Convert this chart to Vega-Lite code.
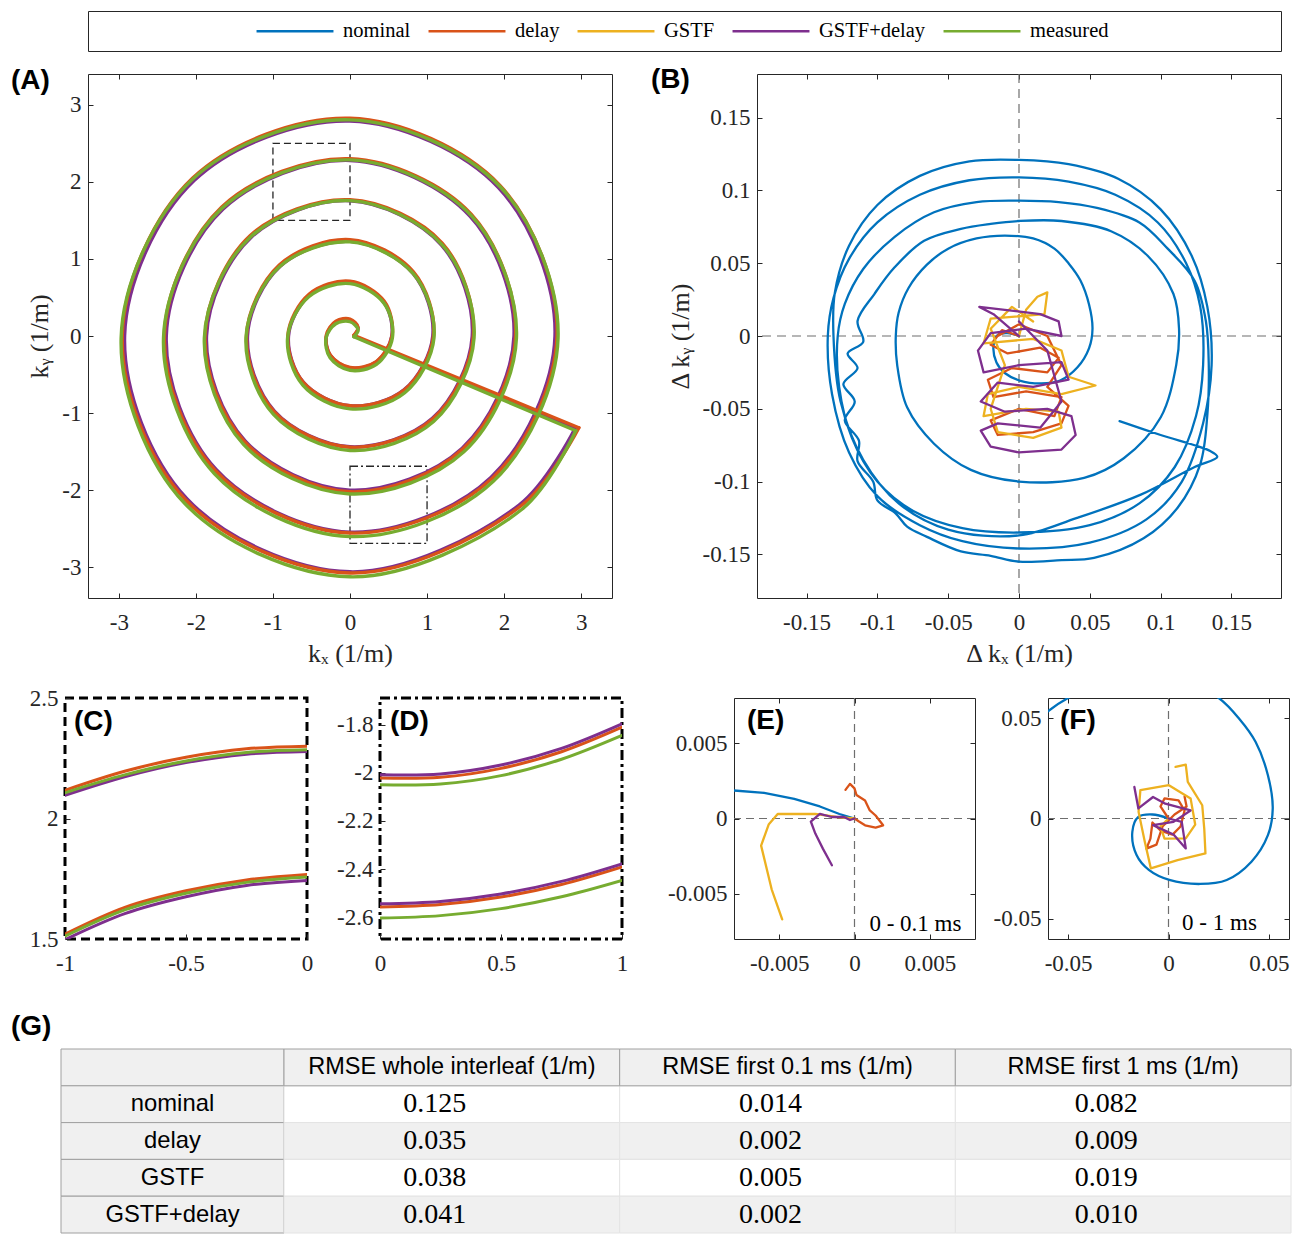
{
"$schema":"https://vega.github.io/schema/vega-lite/v6.json",
"background":"white",
"padding":{"left":10,"top":10,"right":0,"bottom":0},
"config":{
 "font":"Liberation Serif",
 "view":{"stroke":"#262626"},
 "axis":{"domain":false,"grid":false,"tickSize":-5,"tickColor":"#262626","tickWidth":1,"labelFont":"Liberation Serif","labelFontSize":23,"labelColor":"#262626","titleFont":"Liberation Serif","titleFontSize":26,"titleFontWeight":"normal","titleColor":"#262626","labelFlush":false,"labelOverlap":false},
 "axisX":{"labelPadding":18,"titlePadding":6},
 "axisY":{"labelPadding":12,"titlePadding":9},
 "title":{"font":"Liberation Sans","fontSize":28,"fontWeight":"bold","anchor":"start","frame":"group","color":"#000000","baseline":"alphabetic","offset":0},
 "line":{"strokeCap":"round","strokeJoin":"round"}
},
"datasets":{
 "leg":[{"s":"nominal"},{"s":"delay"},{"s":"GSTF"},{"s":"GSTF+delay"},{"s":"measured"}],
 "boxes":[{"b":"C","x1":-1,"x2":0,"y1":1.5,"y2":2.5},{"b":"D","x1":0,"x2":1,"y1":-2.69,"y2":-1.69}],
 "A":[
{"s":"GSTF+delay","p":"a","t":0,"x":0.05,"y":0},{"s":"GSTF+delay","p":"a","t":1,"x":0.104,"y":0.104},{"s":"GSTF+delay","p":"a","t":2,"x":0,"y":0.207},{"s":"GSTF+delay","p":"a","t":3,"x":-0.181,"y":0.181},{"s":"GSTF+delay","p":"a","t":4,"x":-0.305,"y":0},{"s":"GSTF+delay","p":"a","t":5,"x":-0.254,"y":-0.254},{"s":"GSTF+delay","p":"a","t":6,"x":0,"y":-0.414},{"s":"GSTF+delay","p":"a","t":7,"x":0.338,"y":-0.338},{"s":"GSTF+delay","p":"a","t":8,"x":0.542,"y":0},{"s":"GSTF+delay","p":"a","t":9,"x":0.438,"y":0.438},{"s":"GSTF+delay","p":"a","t":10,"x":0,"y":0.694},{"s":"GSTF+delay","p":"a","t":11,"x":-0.527,"y":0.527},{"s":"GSTF+delay","p":"a","t":12,"x":-0.798,"y":0},{"s":"GSTF+delay","p":"a","t":13,"x":-0.603,"y":-0.603},{"s":"GSTF+delay","p":"a","t":14,"x":0,"y":-0.906},{"s":"GSTF+delay","p":"a","t":15,"x":0.7,"y":-0.7},{"s":"GSTF+delay","p":"a","t":16,"x":1.074,"y":0},{"s":"GSTF+delay","p":"a","t":17,"x":0.815,"y":0.815},{"s":"GSTF+delay","p":"a","t":18,"x":0,"y":1.228},{"s":"GSTF+delay","p":"a","t":19,"x":-0.905,"y":0.905},{"s":"GSTF+delay","p":"a","t":20,"x":-1.33,"y":0},{"s":"GSTF+delay","p":"a","t":21,"x":-0.978,"y":-0.978},{"s":"GSTF+delay","p":"a","t":22,"x":0,"y":-1.438},{"s":"GSTF+delay","p":"a","t":23,"x":1.069,"y":-1.069},{"s":"GSTF+delay","p":"a","t":24,"x":1.586,"y":0},{"s":"GSTF+delay","p":"a","t":25,"x":1.184,"y":1.184},{"s":"GSTF+delay","p":"a","t":26,"x":0,"y":1.755},{"s":"GSTF+delay","p":"a","t":27,"x":-1.281,"y":1.281},{"s":"GSTF+delay","p":"a","t":28,"x":-1.862,"y":0},{"s":"GSTF+delay","p":"a","t":29,"x":-1.361,"y":-1.361},{"s":"GSTF+delay","p":"a","t":30,"x":0,"y":-2.0},{"s":"GSTF+delay","p":"a","t":31,"x":1.456,"y":-1.456},{"s":"GSTF+delay","p":"a","t":32,"x":2.128,"y":0},{"s":"GSTF+delay","p":"a","t":33,"x":1.556,"y":1.556},{"s":"GSTF+delay","p":"a","t":34,"x":0,"y":2.278},{"s":"GSTF+delay","p":"a","t":35,"x":-1.647,"y":1.647},{"s":"GSTF+delay","p":"a","t":36,"x":-2.384,"y":0},{"s":"GSTF+delay","p":"a","t":37,"x":-1.735,"y":-1.735},{"s":"GSTF+delay","p":"a","t":38,"x":0,"y":-2.545},{"s":"GSTF+delay","p":"a","t":39,"x":1.832,"y":-1.832},{"s":"GSTF+delay","p":"a","t":40,"x":2.66,"y":0},{"s":"GSTF+delay","p":"a","t":41,"x":1.926,"y":1.926},{"s":"GSTF+delay","p":"a","t":42,"x":0,"y":2.79},{"s":"GSTF+delay","p":"a","t":43,"x":-2.02,"y":2.02},{"s":"GSTF+delay","p":"a","t":44,"x":-2.925,"y":0},{"s":"GSTF+delay","p":"a","t":45,"x":-2.114,"y":-2.114},{"s":"GSTF+delay","p":"a","t":46,"x":0,"y":-3.06},{"s":"GSTF+delay","p":"a","t":47,"x":2.194,"y":-2.194},{"s":"GSTF+delay","p":"a","t":48,"x":2.92,"y":-1.2},{"s":"GSTF+delay","p":"b","t":49,"x":2.92,"y":-1.2},{"s":"GSTF+delay","p":"b","t":50,"x":0.05,"y":0},
{"s":"delay","p":"a","t":0,"x":0.05,"y":0.01},{"s":"delay","p":"a","t":1,"x":0.105,"y":0.115},{"s":"delay","p":"a","t":2,"x":0,"y":0.219},{"s":"delay","p":"a","t":3,"x":-0.183,"y":0.193},{"s":"delay","p":"a","t":4,"x":-0.308,"y":0.01},{"s":"delay","p":"a","t":5,"x":-0.257,"y":-0.247},{"s":"delay","p":"a","t":6,"x":0,"y":-0.408},{"s":"delay","p":"a","t":7,"x":0.341,"y":-0.331},{"s":"delay","p":"a","t":8,"x":0.547,"y":0.01},{"s":"delay","p":"a","t":9,"x":0.443,"y":0.453},{"s":"delay","p":"a","t":10,"x":0,"y":0.711},{"s":"delay","p":"a","t":11,"x":-0.532,"y":0.542},{"s":"delay","p":"a","t":12,"x":-0.806,"y":0.01},{"s":"delay","p":"a","t":13,"x":-0.609,"y":-0.599},{"s":"delay","p":"a","t":14,"x":0,"y":-0.905},{"s":"delay","p":"a","t":15,"x":0.707,"y":-0.697},{"s":"delay","p":"a","t":16,"x":1.085,"y":0.01},{"s":"delay","p":"a","t":17,"x":0.823,"y":0.833},{"s":"delay","p":"a","t":18,"x":0,"y":1.251},{"s":"delay","p":"a","t":19,"x":-0.914,"y":0.924},{"s":"delay","p":"a","t":20,"x":-1.343,"y":0.01},{"s":"delay","p":"a","t":21,"x":-0.988,"y":-0.978},{"s":"delay","p":"a","t":22,"x":0,"y":-1.443},{"s":"delay","p":"a","t":23,"x":1.08,"y":-1.07},{"s":"delay","p":"a","t":24,"x":1.602,"y":0.01},{"s":"delay","p":"a","t":25,"x":1.196,"y":1.206},{"s":"delay","p":"a","t":26,"x":0,"y":1.768},{"s":"delay","p":"a","t":27,"x":-1.294,"y":1.304},{"s":"delay","p":"a","t":28,"x":-1.881,"y":0.01},{"s":"delay","p":"a","t":29,"x":-1.375,"y":-1.365},{"s":"delay","p":"a","t":30,"x":0,"y":-2.022},{"s":"delay","p":"a","t":31,"x":1.471,"y":-1.461},{"s":"delay","p":"a","t":32,"x":2.149,"y":0.01},{"s":"delay","p":"a","t":33,"x":1.572,"y":1.582},{"s":"delay","p":"a","t":34,"x":0,"y":2.3},{"s":"delay","p":"a","t":35,"x":-1.664,"y":1.674},{"s":"delay","p":"a","t":36,"x":-2.408,"y":0.01},{"s":"delay","p":"a","t":37,"x":-1.752,"y":-1.742},{"s":"delay","p":"a","t":38,"x":0,"y":-2.557},{"s":"delay","p":"a","t":39,"x":1.851,"y":-1.841},{"s":"delay","p":"a","t":40,"x":2.687,"y":0.01},{"s":"delay","p":"a","t":41,"x":1.945,"y":1.955},{"s":"delay","p":"a","t":42,"x":0,"y":2.826},{"s":"delay","p":"a","t":43,"x":-2.041,"y":2.051},{"s":"delay","p":"a","t":44,"x":-2.955,"y":0.01},{"s":"delay","p":"a","t":45,"x":-2.135,"y":-2.125},{"s":"delay","p":"a","t":46,"x":0,"y":-3.075},{"s":"delay","p":"a","t":47,"x":2.216,"y":-2.206},{"s":"delay","p":"a","t":48,"x":2.97,"y":-1.19},{"s":"delay","p":"b","t":49,"x":2.97,"y":-1.19},{"s":"delay","p":"b","t":50,"x":0.05,"y":0.01},
{"s":"measured","p":"a","t":0,"x":0.05,"y":-0.01},{"s":"measured","p":"a","t":1,"x":0.106,"y":0.081},{"s":"measured","p":"a","t":2,"x":0,"y":0.185},{"s":"measured","p":"a","t":3,"x":-0.184,"y":0.159},{"s":"measured","p":"a","t":4,"x":-0.31,"y":-0.025},{"s":"measured","p":"a","t":5,"x":-0.258,"y":-0.283},{"s":"measured","p":"a","t":6,"x":0,"y":-0.445},{"s":"measured","p":"a","t":7,"x":0.343,"y":-0.368},{"s":"measured","p":"a","t":8,"x":0.55,"y":-0.025},{"s":"measured","p":"a","t":9,"x":0.445,"y":0.42},{"s":"measured","p":"a","t":10,"x":0,"y":0.68},{"s":"measured","p":"a","t":11,"x":-0.535,"y":0.51},{"s":"measured","p":"a","t":12,"x":-0.81,"y":-0.025},{"s":"measured","p":"a","t":13,"x":-0.612,"y":-0.637},{"s":"measured","p":"a","t":14,"x":0,"y":-0.945},{"s":"measured","p":"a","t":15,"x":0.711,"y":-0.736},{"s":"measured","p":"a","t":16,"x":1.09,"y":-0.025},{"s":"measured","p":"a","t":17,"x":0.827,"y":0.802},{"s":"measured","p":"a","t":18,"x":0,"y":1.222},{"s":"measured","p":"a","t":19,"x":-0.919,"y":0.894},{"s":"measured","p":"a","t":20,"x":-1.35,"y":-0.025},{"s":"measured","p":"a","t":21,"x":-0.993,"y":-1.018},{"s":"measured","p":"a","t":22,"x":0,"y":-1.485},{"s":"measured","p":"a","t":23,"x":1.085,"y":-1.11},{"s":"measured","p":"a","t":24,"x":1.61,"y":-0.025},{"s":"measured","p":"a","t":25,"x":1.202,"y":1.177},{"s":"measured","p":"a","t":26,"x":0,"y":1.757},{"s":"measured","p":"a","t":27,"x":-1.301,"y":1.276},{"s":"measured","p":"a","t":28,"x":-1.89,"y":-0.025},{"s":"measured","p":"a","t":29,"x":-1.382,"y":-1.407},{"s":"measured","p":"a","t":30,"x":0,"y":-2.05},{"s":"measured","p":"a","t":31,"x":1.478,"y":-1.503},{"s":"measured","p":"a","t":32,"x":2.16,"y":-0.025},{"s":"measured","p":"a","t":33,"x":1.58,"y":1.555},{"s":"measured","p":"a","t":34,"x":0,"y":2.285},{"s":"measured","p":"a","t":35,"x":-1.672,"y":1.647},{"s":"measured","p":"a","t":36,"x":-2.42,"y":-0.025},{"s":"measured","p":"a","t":37,"x":-1.761,"y":-1.786},{"s":"measured","p":"a","t":38,"x":0,"y":-2.603},{"s":"measured","p":"a","t":39,"x":1.86,"y":-1.885},{"s":"measured","p":"a","t":40,"x":2.7,"y":-0.025},{"s":"measured","p":"a","t":41,"x":1.955,"y":1.93},{"s":"measured","p":"a","t":42,"x":0,"y":2.805},{"s":"measured","p":"a","t":43,"x":-2.051,"y":2.026},{"s":"measured","p":"a","t":44,"x":-2.97,"y":-0.025},{"s":"measured","p":"a","t":45,"x":-2.146,"y":-2.171},{"s":"measured","p":"a","t":46,"x":0,"y":-3.125},{"s":"measured","p":"a","t":47,"x":2.227,"y":-2.252},{"s":"measured","p":"a","t":48,"x":2.93,"y":-1.23},{"s":"measured","p":"b","t":49,"x":2.93,"y":-1.23},{"s":"measured","p":"b","t":50,"x":0.05,"y":-0.01}
 ],
 "Bn":[
{"s":"nominal","t":0,"x":0,"y":0},{"s":"nominal","t":1,"x":-0.008,"y":0.002},{"s":"nominal","t":2,"x":-0.015,"y":0.0008},{"s":"nominal","t":3,"x":-0.018,"y":-0.0066},{"s":"nominal","t":4,"x":-0.0159,"y":-0.0182},{"s":"nominal","t":5,"x":-0.0098,"y":-0.0256},{"s":"nominal","t":6,"x":0.0004,"y":-0.0306},{"s":"nominal","t":7,"x":0.0157,"y":-0.0326},{"s":"nominal","t":8,"x":0.029,"y":-0.0306},{"s":"nominal","t":9,"x":0.0413,"y":-0.0215},{"s":"nominal","t":10,"x":0.0495,"y":-0.0083},{"s":"nominal","t":11,"x":0.0519,"y":0.005},{"s":"nominal","t":12,"x":0.0495,"y":0.0215},{"s":"nominal","t":13,"x":0.0434,"y":0.0381},{"s":"nominal","t":14,"x":0.0352,"y":0.0497},{"s":"nominal","t":15,"x":0.025,"y":0.06},{"s":"nominal","t":16,"x":0.01,"y":0.067},{"s":"nominal","t":17,"x":-0.01,"y":0.069},{"s":"nominal","t":18,"x":-0.03,"y":0.067},{"s":"nominal","t":19,"x":-0.05,"y":0.06},{"s":"nominal","t":20,"x":-0.065,"y":0.049},{"s":"nominal","t":21,"x":-0.078,"y":0.033},{"s":"nominal","t":22,"x":-0.085,"y":0.016},{"s":"nominal","t":23,"x":-0.087,"y":0},
{"s":"nominal","t":24,"x":-0.086,"y":-0.02},{"s":"nominal","t":25,"x":-0.079,"y":-0.049},{"s":"nominal","t":26,"x":-0.06,"y":-0.074},{"s":"nominal","t":27,"x":-0.034,"y":-0.092},{"s":"nominal","t":28,"x":0,"y":-0.1},{"s":"nominal","t":29,"x":0.046,"y":-0.0975},{"s":"nominal","t":30,"x":0.074,"y":-0.084},{"s":"nominal","t":31,"x":0.1,"y":-0.056},{"s":"nominal","t":32,"x":0.111,"y":-0.02},{"s":"nominal","t":33,"x":0.113,"y":0.005},{"s":"nominal","t":34,"x":0.109,"y":0.029},{"s":"nominal","t":35,"x":0.091,"y":0.055},{"s":"nominal","t":36,"x":0.065,"y":0.072},{"s":"nominal","t":37,"x":0.03,"y":0.079},{"s":"nominal","t":38,"x":0,"y":0.079},{"s":"nominal","t":39,"x":-0.02,"y":0.077},{"s":"nominal","t":40,"x":-0.041,"y":0.0736},{"s":"nominal","t":41,"x":-0.067,"y":0.0654},{"s":"nominal","t":42,"x":-0.088,"y":0.047},{"s":"nominal","t":43,"x":-0.102,"y":0.029},{"s":"nominal","t":44,"x":-0.114,"y":0.0103},{"s":"nominal","t":45,"x":-0.11,"y":-0.004},{"s":"nominal","t":46,"x":-0.121,"y":-0.012},{"s":"nominal","t":47,"x":-0.114,"y":-0.022},{"s":"nominal","t":48,"x":-0.124,"y":-0.033},{"s":"nominal","t":49,"x":-0.116,"y":-0.045},{"s":"nominal","t":50,"x":-0.123,"y":-0.058},{"s":"nominal","t":51,"x":-0.113,"y":-0.072},{"s":"nominal","t":52,"x":-0.114,"y":-0.086},{"s":"nominal","t":53,"x":-0.103,"y":-0.1},{"s":"nominal","t":54,"x":-0.1,"y":-0.113},{"s":"nominal","t":55,"x":-0.087,"y":-0.122},{"s":"nominal","t":56,"x":-0.079,"y":-0.131},{"s":"nominal","t":57,"x":-0.065,"y":-0.138},{"s":"nominal","t":58,"x":-0.041,"y":-0.148},{"s":"nominal","t":59,"x":-0.02,"y":-0.151},{"s":"nominal","t":60,"x":0,"y":-0.155},{"s":"nominal","t":61,"x":0.03,"y":-0.154},{"s":"nominal","t":62,"x":0.053,"y":-0.1525},{"s":"nominal","t":63,"x":0.088,"y":-0.139},{"s":"nominal","t":64,"x":0.112,"y":-0.118},{"s":"nominal","t":65,"x":0.128,"y":-0.088},{"s":"nominal","t":66,"x":0.133,"y":-0.054},{"s":"nominal","t":67,"x":0.134,"y":-0.02},{"s":"nominal","t":68,"x":0.132,"y":0.01},{"s":"nominal","t":69,"x":0.124,"y":0.038},{"s":"nominal","t":70,"x":0.105,"y":0.06},{"s":"nominal","t":71,"x":0.085,"y":0.078},{"s":"nominal","t":72,"x":0.055,"y":0.088},{"s":"nominal","t":73,"x":0.028,"y":0.092},{"s":"nominal","t":74,"x":0,"y":0.093},{"s":"nominal","t":75,"x":-0.03,"y":0.092},{"s":"nominal","t":76,"x":-0.06,"y":0.085},{"s":"nominal","t":77,"x":-0.088,"y":0.068},{"s":"nominal","t":78,"x":-0.11,"y":0.046},{"s":"nominal","t":79,"x":-0.123,"y":0.022},{"s":"nominal","t":80,"x":-0.128,"y":0},{"s":"nominal","t":81,"x":-0.127,"y":-0.035},{"s":"nominal","t":82,"x":-0.118,"y":-0.07},{"s":"nominal","t":83,"x":-0.1,"y":-0.1},{"s":"nominal","t":84,"x":-0.075,"y":-0.12},{"s":"nominal","t":85,"x":-0.04,"y":-0.132},{"s":"nominal","t":86,"x":0,"y":-0.135},{"s":"nominal","t":87,"x":0.05,"y":-0.13},{"s":"nominal","t":88,"x":0.085,"y":-0.115},{"s":"nominal","t":89,"x":0.11,"y":-0.09},{"s":"nominal","t":90,"x":0.125,"y":-0.055},{"s":"nominal","t":91,"x":0.13,"y":-0.02},{"s":"nominal","t":92,"x":0.128,"y":0.02},{"s":"nominal","t":93,"x":0.118,"y":0.05},{"s":"nominal","t":94,"x":0.098,"y":0.078},{"s":"nominal","t":95,"x":0.068,"y":0.097},{"s":"nominal","t":96,"x":0.035,"y":0.106},{"s":"nominal","t":97,"x":0,"y":0.109},{"s":"nominal","t":98,"x":-0.035,"y":0.107},{"s":"nominal","t":99,"x":-0.07,"y":0.097},{"s":"nominal","t":100,"x":-0.1,"y":0.078},{"s":"nominal","t":101,"x":-0.12,"y":0.053},{"s":"nominal","t":102,"x":-0.131,"y":0.026},{"s":"nominal","t":103,"x":-0.135,"y":0},{"s":"nominal","t":104,"x":-0.132,"y":-0.04},{"s":"nominal","t":105,"x":-0.12,"y":-0.08},{"s":"nominal","t":106,"x":-0.1,"y":-0.11},{"s":"nominal","t":107,"x":-0.07,"y":-0.13},{"s":"nominal","t":108,"x":-0.04,"y":-0.141},{"s":"nominal","t":109,"x":0,"y":-0.146},{"s":"nominal","t":110,"x":0.05,"y":-0.142},{"s":"nominal","t":111,"x":0.09,"y":-0.126},{"s":"nominal","t":112,"x":0.115,"y":-0.1},{"s":"nominal","t":113,"x":0.13,"y":-0.06},{"s":"nominal","t":114,"x":0.136,"y":-0.02},{"s":"nominal","t":115,"x":0.133,"y":0.02},{"s":"nominal","t":116,"x":0.122,"y":0.055},{"s":"nominal","t":117,"x":0.1,"y":0.087},{"s":"nominal","t":118,"x":0.07,"y":0.108},{"s":"nominal","t":119,"x":0.035,"y":0.118},{"s":"nominal","t":120,"x":0,"y":0.121},{"s":"nominal","t":121,"x":-0.035,"y":0.12},{"s":"nominal","t":122,"x":-0.07,"y":0.11},{"s":"nominal","t":123,"x":-0.1,"y":0.09},{"s":"nominal","t":124,"x":-0.12,"y":0.062},{"s":"nominal","t":125,"x":-0.13,"y":0.03},{"s":"nominal","t":126,"x":-0.131,"y":0},{"s":"nominal","t":127,"x":-0.126,"y":-0.045},{"s":"nominal","t":128,"x":-0.11,"y":-0.085},{"s":"nominal","t":129,"x":-0.085,"y":-0.115},{"s":"nominal","t":130,"x":-0.05,"y":-0.133},{"s":"nominal","t":131,"x":0,"y":-0.137},{"s":"nominal","t":132,"x":0.041,"y":-0.125},{"s":"nominal","t":133,"x":0.086,"y":-0.109},{"s":"nominal","t":134,"x":0.124,"y":-0.09},{"s":"nominal","t":135,"x":0.14,"y":-0.083},{"s":"nominal","t":136,"x":0.135,"y":-0.079},{"s":"nominal","t":137,"x":0.1,"y":-0.068},{"s":"nominal","t":138,"x":0.071,"y":-0.0585}
 ],
 "Bs":[
{"s":"delay","t":0,"x":0,"y":0},{"s":"delay","t":1,"x":-0.012,"y":0.004},{"s":"delay","t":2,"x":-0.02,"y":-0.006},{"s":"delay","t":3,"x":-0.008,"y":-0.012},{"s":"delay","t":4,"x":0.015,"y":-0.008},{"s":"delay","t":5,"x":0.028,"y":-0.015},{"s":"delay","t":6,"x":0.02,"y":-0.025},{"s":"delay","t":7,"x":-0.005,"y":-0.022},{"s":"delay","t":8,"x":-0.022,"y":-0.03},{"s":"delay","t":9,"x":-0.018,"y":-0.042},{"s":"delay","t":10,"x":0.005,"y":-0.038},{"s":"delay","t":11,"x":0.03,"y":-0.042},{"s":"delay","t":12,"x":0.025,"y":-0.055},{"s":"delay","t":13,"x":0,"y":-0.05},{"s":"delay","t":14,"x":-0.02,"y":-0.058},{"s":"delay","t":15,"x":-0.015,"y":-0.068},{"s":"delay","t":16,"x":0.01,"y":-0.066},{"s":"delay","t":17,"x":0.03,"y":-0.06},{"s":"delay","t":18,"x":0.035,"y":-0.048},{"s":"delay","t":19,"x":0.02,"y":-0.035},{"s":"delay","t":20,"x":0.03,"y":-0.02},{"s":"delay","t":21,"x":0.02,"y":0},{"s":"delay","t":22,"x":0,"y":0.008},{"s":"delay","t":23,"x":-0.015,"y":0},
{"s":"GSTF","t":0,"x":0,"y":0},{"s":"GSTF","t":1,"x":0.005,"y":0.018},{"s":"GSTF","t":2,"x":0.013,"y":0.027},{"s":"GSTF","t":3,"x":0.02,"y":0.03},{"s":"GSTF","t":4,"x":0.018,"y":0.015},{"s":"GSTF","t":5,"x":-0.02,"y":0.012},{"s":"GSTF","t":6,"x":-0.025,"y":-0.005},{"s":"GSTF","t":7,"x":0.01,"y":-0.002},{"s":"GSTF","t":8,"x":0.03,"y":-0.01},{"s":"GSTF","t":9,"x":0.035,"y":-0.028},{"s":"GSTF","t":10,"x":0.054,"y":-0.034},{"s":"GSTF","t":11,"x":0.03,"y":-0.04},{"s":"GSTF","t":12,"x":0,"y":-0.035},{"s":"GSTF","t":13,"x":-0.022,"y":-0.04},{"s":"GSTF","t":14,"x":-0.025,"y":-0.055},{"s":"GSTF","t":15,"x":0.005,"y":-0.05},{"s":"GSTF","t":16,"x":0.028,"y":-0.052},{"s":"GSTF","t":17,"x":0.03,"y":-0.063},{"s":"GSTF","t":18,"x":0.01,"y":-0.07},{"s":"GSTF","t":19,"x":-0.015,"y":-0.066},{"s":"GSTF","t":20,"x":-0.02,"y":-0.05},{"s":"GSTF","t":21,"x":-0.01,"y":-0.02},{"s":"GSTF","t":22,"x":-0.02,"y":0.005},{"s":"GSTF","t":23,"x":-0.005,"y":0.02},{"s":"GSTF","t":24,"x":0.01,"y":0.01},
{"s":"GSTF+delay","t":0,"x":0,"y":0},{"s":"GSTF+delay","t":1,"x":-0.018,"y":0.015},{"s":"GSTF+delay","t":2,"x":-0.028,"y":0.02},{"s":"GSTF+delay","t":3,"x":-0.01,"y":0.018},{"s":"GSTF+delay","t":4,"x":0.015,"y":0.015},{"s":"GSTF+delay","t":5,"x":0.028,"y":0.01},{"s":"GSTF+delay","t":6,"x":0.03,"y":0},{"s":"GSTF+delay","t":7,"x":0.005,"y":0.005},{"s":"GSTF+delay","t":8,"x":-0.02,"y":0.002},{"s":"GSTF+delay","t":9,"x":-0.029,"y":-0.01},{"s":"GSTF+delay","t":10,"x":-0.025,"y":-0.025},{"s":"GSTF+delay","t":11,"x":0,"y":-0.02},{"s":"GSTF+delay","t":12,"x":0.03,"y":-0.018},{"s":"GSTF+delay","t":13,"x":0.035,"y":-0.03},{"s":"GSTF+delay","t":14,"x":0.01,"y":-0.035},{"s":"GSTF+delay","t":15,"x":-0.015,"y":-0.032},{"s":"GSTF+delay","t":16,"x":-0.027,"y":-0.045},{"s":"GSTF+delay","t":17,"x":-0.01,"y":-0.052},{"s":"GSTF+delay","t":18,"x":0.02,"y":-0.05},{"s":"GSTF+delay","t":19,"x":0.037,"y":-0.055},{"s":"GSTF+delay","t":20,"x":0.04,"y":-0.068},{"s":"GSTF+delay","t":21,"x":0.03,"y":-0.078},{"s":"GSTF+delay","t":22,"x":0,"y":-0.08},{"s":"GSTF+delay","t":23,"x":-0.02,"y":-0.076},{"s":"GSTF+delay","t":24,"x":-0.027,"y":-0.065},{"s":"GSTF+delay","t":25,"x":-0.015,"y":-0.06},{"s":"GSTF+delay","t":26,"x":0.015,"y":-0.063},{"s":"GSTF+delay","t":27,"x":0.03,"y":-0.045},{"s":"GSTF+delay","t":28,"x":0.02,"y":-0.01},{"s":"GSTF+delay","t":29,"x":0,"y":0.01}
 ],
 "C":[
{"s":"GSTF+delay","arc":"u","x":-1,"y":2.096},{"s":"GSTF+delay","arc":"u","x":-0.75,"y":2.174},{"s":"GSTF+delay","arc":"u","x":-0.5,"y":2.232},{"s":"GSTF+delay","arc":"u","x":-0.25,"y":2.267},{"s":"GSTF+delay","arc":"u","x":0,"y":2.278},
{"s":"GSTF+delay","arc":"l","x":-1,"y":1.497},{"s":"GSTF+delay","arc":"l","x":-0.75,"y":1.606},{"s":"GSTF+delay","arc":"l","x":-0.5,"y":1.675},{"s":"GSTF+delay","arc":"l","x":-0.25,"y":1.722},{"s":"GSTF+delay","arc":"l","x":0,"y":1.743},
{"s":"delay","arc":"u","x":-1,"y":2.117},{"s":"delay","arc":"u","x":-0.75,"y":2.197},{"s":"delay","arc":"u","x":-0.5,"y":2.254},{"s":"delay","arc":"u","x":-0.25,"y":2.289},{"s":"delay","arc":"u","x":0,"y":2.3},
{"s":"delay","arc":"l","x":-1,"y":1.52},{"s":"delay","arc":"l","x":-0.75,"y":1.632},{"s":"delay","arc":"l","x":-0.5,"y":1.7},{"s":"delay","arc":"l","x":-0.25,"y":1.745},{"s":"delay","arc":"l","x":0,"y":1.768},
{"s":"measured","arc":"u","x":-1,"y":2.107},{"s":"measured","arc":"u","x":-0.75,"y":2.182},{"s":"measured","arc":"u","x":-0.5,"y":2.239},{"s":"measured","arc":"u","x":-0.25,"y":2.274},{"s":"measured","arc":"u","x":0,"y":2.285},
{"s":"measured","arc":"l","x":-1,"y":1.512},{"s":"measured","arc":"l","x":-0.75,"y":1.622},{"s":"measured","arc":"l","x":-0.5,"y":1.69},{"s":"measured","arc":"l","x":-0.25,"y":1.735},{"s":"measured","arc":"l","x":0,"y":1.757}
 ],
 "D":[
{"s":"delay","arc":"u","x":0,"y":-2.022},{"s":"delay","arc":"u","x":0.25,"y":-2.019},{"s":"delay","arc":"u","x":0.5,"y":-1.982},{"s":"delay","arc":"u","x":0.75,"y":-1.913},{"s":"delay","arc":"u","x":1,"y":-1.811},
{"s":"delay","arc":"l","x":0,"y":-2.557},{"s":"delay","arc":"l","x":0.25,"y":-2.547},{"s":"delay","arc":"l","x":0.5,"y":-2.516},{"s":"delay","arc":"l","x":0.75,"y":-2.464},{"s":"delay","arc":"l","x":1,"y":-2.391},
{"s":"measured","arc":"u","x":0,"y":-2.05},{"s":"measured","arc":"u","x":0.25,"y":-2.047},{"s":"measured","arc":"u","x":0.5,"y":-2.012},{"s":"measured","arc":"u","x":0.75,"y":-1.944},{"s":"measured","arc":"u","x":1,"y":-1.845},
{"s":"measured","arc":"l","x":0,"y":-2.603},{"s":"measured","arc":"l","x":0.25,"y":-2.593},{"s":"measured","arc":"l","x":0.5,"y":-2.564},{"s":"measured","arc":"l","x":0.75,"y":-2.515},{"s":"measured","arc":"l","x":1,"y":-2.447},
{"s":"GSTF+delay","arc":"u","x":0,"y":-2.008},{"s":"GSTF+delay","arc":"u","x":0.25,"y":-2.005},{"s":"GSTF+delay","arc":"u","x":0.5,"y":-1.968},{"s":"GSTF+delay","arc":"u","x":0.75,"y":-1.899},{"s":"GSTF+delay","arc":"u","x":1,"y":-1.797},
{"s":"GSTF+delay","arc":"l","x":0,"y":-2.544},{"s":"GSTF+delay","arc":"l","x":0.25,"y":-2.534},{"s":"GSTF+delay","arc":"l","x":0.5,"y":-2.503},{"s":"GSTF+delay","arc":"l","x":0.75,"y":-2.451},{"s":"GSTF+delay","arc":"l","x":1,"y":-2.378}
 ],
 "E":[
{"s":"nominal","t":0,"x":0,"y":0},{"s":"nominal","t":1,"x":-0.001,"y":0.0003},{"s":"nominal","t":2,"x":-0.0023,"y":0.0008},{"s":"nominal","t":3,"x":-0.004,"y":0.0013},{"s":"nominal","t":4,"x":-0.006,"y":0.0017},{"s":"nominal","t":5,"x":-0.0085,"y":0.0019},
{"s":"delay","t":0,"x":0,"y":0},{"s":"delay","t":1,"x":0.0003,"y":-0.0002},{"s":"delay","t":2,"x":0.0007,"y":-0.00045},{"s":"delay","t":3,"x":0.0014,"y":-0.0006},{"s":"delay","t":4,"x":0.0019,"y":-0.00045},{"s":"delay","t":5,"x":0.0014,"y":0.0002},{"s":"delay","t":6,"x":0.001,"y":0.00056},{"s":"delay","t":7,"x":0.0007,"y":0.0012},{"s":"delay","t":8,"x":0.00013,"y":0.00156},{"s":"delay","t":9,"x":0,"y":0.002},{"s":"delay","t":10,"x":-0.0003,"y":0.0023},{"s":"delay","t":11,"x":-0.0006,"y":0.0019},
{"s":"GSTF","t":0,"x":0,"y":0},{"s":"GSTF","t":1,"x":-0.0012,"y":0.0001},{"s":"GSTF","t":2,"x":-0.0026,"y":0.0003},{"s":"GSTF","t":3,"x":-0.0051,"y":0.0003},{"s":"GSTF","t":4,"x":-0.0057,"y":-0.0004},{"s":"GSTF","t":5,"x":-0.0062,"y":-0.0018},{"s":"GSTF","t":6,"x":-0.0055,"y":-0.0047},{"s":"GSTF","t":7,"x":-0.0048,"y":-0.0067},
{"s":"GSTF+delay","t":0,"x":0,"y":0},{"s":"GSTF+delay","t":1,"x":-0.0003,"y":-0.0001},{"s":"GSTF+delay","t":2,"x":-0.0007,"y":0.0001},{"s":"GSTF+delay","t":3,"x":-0.0015,"y":0.0001},{"s":"GSTF+delay","t":4,"x":-0.0023,"y":0.0003},{"s":"GSTF+delay","t":5,"x":-0.0029,"y":-0.0002},{"s":"GSTF+delay","t":6,"x":-0.0026,"y":-0.001},{"s":"GSTF+delay","t":7,"x":-0.0021,"y":-0.002},{"s":"GSTF+delay","t":8,"x":-0.0015,"y":-0.0031}
 ],
 "Fn":[
{"s":"nominal","t":0,"x":0,"y":0},{"s":"nominal","t":1,"x":-0.008,"y":0.002},{"s":"nominal","t":2,"x":-0.015,"y":0.0008},{"s":"nominal","t":3,"x":-0.018,"y":-0.0066},{"s":"nominal","t":4,"x":-0.0159,"y":-0.0182},{"s":"nominal","t":5,"x":-0.0098,"y":-0.0256},{"s":"nominal","t":6,"x":0.0004,"y":-0.0306},{"s":"nominal","t":7,"x":0.0157,"y":-0.0326},{"s":"nominal","t":8,"x":0.029,"y":-0.0306},{"s":"nominal","t":9,"x":0.0413,"y":-0.0215},{"s":"nominal","t":10,"x":0.0495,"y":-0.0083},{"s":"nominal","t":11,"x":0.0519,"y":0.005},{"s":"nominal","t":12,"x":0.0495,"y":0.0215},{"s":"nominal","t":13,"x":0.0434,"y":0.0381},{"s":"nominal","t":14,"x":0.0352,"y":0.0497},{"s":"nominal","t":15,"x":0.025,"y":0.06},{"s":"nominal","t":16,"x":0.01,"y":0.067},{"s":"nominal","t":17,"x":-0.01,"y":0.069},{"s":"nominal","t":18,"x":-0.03,"y":0.067},{"s":"nominal","t":19,"x":-0.05,"y":0.06},{"s":"nominal","t":20,"x":-0.065,"y":0.049},{"s":"nominal","t":21,"x":-0.078,"y":0.033}
 ],
 "Fs":[
{"s":"delay","t":0,"x":0,"y":0},{"s":"delay","t":1,"x":-0.004,"y":0.006},{"s":"delay","t":2,"x":-0.002,"y":0.01},{"s":"delay","t":3,"x":0.005,"y":0.009},{"s":"delay","t":4,"x":0.008,"y":0.004},{"s":"delay","t":5,"x":0.006,"y":-0.004},{"s":"delay","t":6,"x":0.002,"y":-0.008},{"s":"delay","t":7,"x":-0.004,"y":-0.006},{"s":"delay","t":8,"x":-0.008,"y":-0.002},{"s":"delay","t":9,"x":-0.009,"y":-0.01},{"s":"delay","t":10,"x":-0.011,"y":-0.015},{"s":"delay","t":11,"x":-0.006,"y":-0.013},{"s":"delay","t":12,"x":-0.003,"y":-0.004},{"s":"delay","t":13,"x":0.003,"y":0.002},{"s":"delay","t":14,"x":0.009,"y":0.006},{"s":"delay","t":15,"x":0.008,"y":0.011},
{"s":"GSTF","t":0,"x":0,"y":0},{"s":"GSTF","t":1,"x":-0.004,"y":-0.004},{"s":"GSTF","t":2,"x":-0.002,"y":-0.01},{"s":"GSTF","t":3,"x":0.0086,"y":-0.0099},{"s":"GSTF","t":4,"x":0.0133,"y":-0.003},{"s":"GSTF","t":5,"x":0.011,"y":0.01},{"s":"GSTF","t":6,"x":0.0002,"y":0.0166},{"s":"GSTF","t":7,"x":-0.014,"y":0.0141},{"s":"GSTF","t":8,"x":-0.0149,"y":0.0033},{"s":"GSTF","t":9,"x":-0.0118,"y":-0.0116},{"s":"GSTF","t":10,"x":-0.0088,"y":-0.0248},{"s":"GSTF","t":11,"x":0.0045,"y":-0.0207},{"s":"GSTF","t":12,"x":0.0184,"y":-0.0174},{"s":"GSTF","t":13,"x":0.0178,"y":-0.005},{"s":"GSTF","t":14,"x":0.0168,"y":0.0066},{"s":"GSTF","t":15,"x":0.0096,"y":0.0182},{"s":"GSTF","t":16,"x":0.0086,"y":0.0268},{"s":"GSTF","t":17,"x":0.0035,"y":0.0257},
{"s":"GSTF+delay","t":0,"x":0,"y":0},{"s":"GSTF+delay","t":1,"x":0.0066,"y":-0.0017},{"s":"GSTF+delay","t":2,"x":0.0086,"y":-0.0149},{"s":"GSTF+delay","t":3,"x":0.0025,"y":-0.008},{"s":"GSTF+delay","t":4,"x":-0.0077,"y":-0.0033},{"s":"GSTF+delay","t":5,"x":0.0025,"y":-0.0017},{"s":"GSTF+delay","t":6,"x":0.011,"y":0.004},{"s":"GSTF+delay","t":7,"x":-0.0016,"y":0.0074},{"s":"GSTF+delay","t":8,"x":-0.0077,"y":0.0107},{"s":"GSTF+delay","t":9,"x":-0.015,"y":0.005},{"s":"GSTF+delay","t":10,"x":-0.017,"y":0.0157}
 ],
 "methods":[{"r":"nominal"},{"r":"delay"},{"r":"GSTF"},{"r":"GSTF+delay"}],
 "metrics":[{"m":"RMSE whole interleaf (1/m)"},{"m":"RMSE first 0.1 ms (1/m)"},{"m":"RMSE first 1 ms (1/m)"}],
 "cells":[
{"r":"nominal","m":"RMSE whole interleaf (1/m)","v":0.125},{"r":"nominal","m":"RMSE first 0.1 ms (1/m)","v":0.014},{"r":"nominal","m":"RMSE first 1 ms (1/m)","v":0.082},
{"r":"delay","m":"RMSE whole interleaf (1/m)","v":0.035},{"r":"delay","m":"RMSE first 0.1 ms (1/m)","v":0.002},{"r":"delay","m":"RMSE first 1 ms (1/m)","v":0.009},
{"r":"GSTF","m":"RMSE whole interleaf (1/m)","v":0.038},{"r":"GSTF","m":"RMSE first 0.1 ms (1/m)","v":0.005},{"r":"GSTF","m":"RMSE first 1 ms (1/m)","v":0.019},
{"r":"GSTF+delay","m":"RMSE whole interleaf (1/m)","v":0.041},{"r":"GSTF+delay","m":"RMSE first 0.1 ms (1/m)","v":0.002},{"r":"GSTF+delay","m":"RMSE first 1 ms (1/m)","v":0.010}
 ]
},
"spacing":0,
"bounds":"flush",
"resolve":{"scale":{"color":"independent"}},
"vconcat":[
 {"hconcat":[
   {"width":27,"height":1,"view":{"stroke":null},"data":{"values":[{}]},"mark":{"type":"point","opacity":0,"size":0,"strokeWidth":0}},
   {"vconcat":[
     {"width":1193,"height":40,"view":{"stroke":"#262626"},"data":{"name":"leg"},"mark":{"type":"line","strokeWidth":2.5,"strokeCap":"butt"},
      "encoding":{"color":{"field":"s","type":"nominal","scale":{"domain":["nominal","delay","GSTF","GSTF+delay","measured"],"range":["#0072BD","#D95319","#EDB120","#7E2F8E","#77AC30"]},
        "legend":{"orient":"none","legendX":167,"legendY":9,"direction":"horizontal","columns":5,"title":null,"symbolType":"M-4,0H4","symbolSize":370,"symbolStrokeWidth":2.5,"symbolOffset":29,"labelFont":"Liberation Serif","labelFontSize":20.5,"labelColor":"#000000","labelOffset":37,"columnPadding":16,"padding":0}}}},
     {"width":1,"height":23,"view":{"stroke":null},"data":{"values":[{}]},"mark":{"type":"point","opacity":0,"size":0,"strokeWidth":0}},
     {"hconcat":[
       {"width":524,"height":524,"title":{"text":"(A)","dx":-77,"dy":25},
        "layer":[
         {"data":{"name":"boxes"},"transform":[{"filter":"datum.b == 'C'"}],"mark":{"type":"rect","filled":false,"color":"#262626","strokeWidth":1.3,"strokeDash":[7,4]},
          "encoding":{"x":{"field":"x1","type":"quantitative","scale":{"domain":[-3.4,3.4],"nice":false,"zero":false},"axis":{"orient":"top","values":[-3,-2,-1,0,1,2,3],"labels":false,"title":null}},
            "x2":{"field":"x2"},
            "y":{"field":"y1","type":"quantitative","scale":{"domain":[-3.4,3.4],"nice":false,"zero":false},"axis":{"orient":"right","values":[-3,-2,-1,0,1,2,3],"labels":false,"title":null}},
            "y2":{"field":"y2"}}},
         {"data":{"name":"boxes"},"transform":[{"filter":"datum.b == 'D'"}],"mark":{"type":"rect","filled":false,"color":"#262626","strokeWidth":1.3,"strokeDash":[8,3,2,3]},
          "encoding":{"x":{"field":"x1","type":"quantitative","scale":{"domain":[-3.4,3.4],"nice":false,"zero":false},"axis":null},
            "x2":{"field":"x2"},
            "y":{"field":"y1","type":"quantitative","scale":{"domain":[-3.4,3.4],"nice":false,"zero":false},"axis":null},
            "y2":{"field":"y2"}}},
         {"data":{"name":"A"},"mark":{"type":"line","strokeWidth":3.4,"interpolate":"catmull-rom","clip":true},
          "encoding":{"x":{"field":"x","type":"quantitative","scale":{"domain":[-3.4,3.4],"nice":false,"zero":false},"axis":{"orient":"bottom","values":[-3,-2,-1,0,1,2,3],"format":"~g","labelExpr":"replace(datum.label,'−','-')","title":"kₓ (1/m)"}},
            "y":{"field":"y","type":"quantitative","scale":{"domain":[-3.4,3.4],"nice":false,"zero":false},"axis":{"orient":"left","values":[-3,-2,-1,0,1,2,3],"format":"~g","labelExpr":"replace(datum.label,'−','-')","title":"kᵧ (1/m)"}},
            "color":{"field":"s","type":"nominal","scale":{"domain":["nominal","delay","GSTF","GSTF+delay","measured"],"range":["#0072BD","#D95319","#EDB120","#7E2F8E","#77AC30"]},"legend":null},
            "detail":{"field":"p"},
            "order":{"field":"t","type":"quantitative"}}}
        ],
        "resolve":{"axis":{"x":"independent","y":"independent"}}},
       {"width":145,"height":1,"view":{"stroke":null},"data":{"values":[{}]},"mark":{"type":"point","opacity":0,"size":0,"strokeWidth":0}},
       {"width":524,"height":524,"title":{"text":"(B)","dx":-106,"dy":25},
        "layer":[
         {"data":{"values":[{}]},"mark":{"type":"rule","strokeDash":[9,6],"color":"#6e6e6e","strokeWidth":1.2},
          "encoding":{"x":{"datum":0,"type":"quantitative","scale":{"domain":[-0.185,0.185],"nice":false,"zero":false},"axis":{"orient":"top","values":[-0.15,-0.1,-0.05,0,0.05,0.1,0.15],"labels":false,"title":null}}}},
         {"data":{"values":[{}]},"mark":{"type":"rule","strokeDash":[9,6],"color":"#6e6e6e","strokeWidth":1.2},
          "encoding":{"y":{"datum":0,"type":"quantitative","scale":{"domain":[-0.18,0.18],"nice":false,"zero":false},"axis":{"orient":"right","values":[-0.15,-0.1,-0.05,0,0.05,0.1,0.15],"labels":false,"title":null}}}},
         {"data":{"name":"Bn"},"mark":{"type":"line","strokeWidth":2.3,"interpolate":"catmull-rom","clip":true},
          "encoding":{"x":{"field":"x","type":"quantitative","scale":{"domain":[-0.185,0.185],"nice":false,"zero":false},"axis":{"orient":"bottom","values":[-0.15,-0.1,-0.05,0,0.05,0.1,0.15],"format":"~g","labelExpr":"replace(datum.label,'−','-')","title":"Δ kₓ (1/m)"}},
            "y":{"field":"y","type":"quantitative","scale":{"domain":[-0.18,0.18],"nice":false,"zero":false},"axis":{"orient":"left","values":[-0.15,-0.1,-0.05,0,0.05,0.1,0.15],"format":"~g","labelExpr":"replace(datum.label,'−','-')","title":"Δ kᵧ (1/m)"}},
            "color":{"field":"s","type":"nominal","scale":{"domain":["nominal","delay","GSTF","GSTF+delay","measured"],"range":["#0072BD","#D95319","#EDB120","#7E2F8E","#77AC30"]},"legend":null},
            "order":{"field":"t","type":"quantitative"}}},
         {"data":{"name":"Bs"},"mark":{"type":"line","strokeWidth":2.3,"clip":true},
          "encoding":{"x":{"field":"x","type":"quantitative","scale":{"domain":[-0.185,0.185],"nice":false,"zero":false},"axis":null},
            "y":{"field":"y","type":"quantitative","scale":{"domain":[-0.18,0.18],"nice":false,"zero":false},"axis":null},
            "color":{"field":"s","type":"nominal","scale":{"domain":["nominal","delay","GSTF","GSTF+delay","measured"],"range":["#0072BD","#D95319","#EDB120","#7E2F8E","#77AC30"]},"legend":null},
            "order":{"field":"t","type":"quantitative"}}}
        ],
        "resolve":{"axis":{"x":"independent","y":"independent"}}}
     ],"spacing":0,"bounds":"flush"}
   ],"spacing":0,"bounds":"flush","resolve":{"scale":{"color":"independent"}}}
 ],"spacing":0,"bounds":"flush","resolve":{"scale":{"color":"independent"}}},
 {"width":1,"height":687,"view":{"stroke":null},"data":{"values":[{}]},"mark":{"type":"point","opacity":0,"size":0,"strokeWidth":0}},
 {"hconcat":[
   {"width":4,"height":1,"view":{"stroke":null},"data":{"values":[{}]},"mark":{"type":"point","opacity":0,"size":0,"strokeWidth":0}},
   {"width":242,"height":241,"title":{"text":"(C)","dx":9,"dy":53},"view":{"stroke":"#000000","strokeWidth":3,"strokeDash":[9,5]},
    "data":{"name":"C"},"mark":{"type":"line","strokeWidth":3,"interpolate":"catmull-rom","clip":true},
    "encoding":{"x":{"field":"x","type":"quantitative","scale":{"domain":[-1,0],"nice":false,"zero":false},"axis":{"values":[-1,-0.5,0],"format":"~g","labelExpr":"replace(datum.label,'−','-')","title":null}},
      "y":{"field":"y","type":"quantitative","scale":{"domain":[1.5,2.5],"nice":false,"zero":false},"axis":{"values":[1.5,2,2.5],"format":"~g","labelExpr":"replace(datum.label,'−','-')","title":null}},
      "color":{"field":"s","type":"nominal","scale":{"domain":["nominal","delay","GSTF","GSTF+delay","measured"],"range":["#0072BD","#D95319","#EDB120","#7E2F8E","#77AC30"]},"legend":null},
      "detail":{"field":"arc"}}},
   {"width":73,"height":1,"view":{"stroke":null},"data":{"values":[{}]},"mark":{"type":"point","opacity":0,"size":0,"strokeWidth":0}},
   {"width":242,"height":241,"title":{"text":"(D)","dx":10,"dy":42},"view":{"stroke":"#000000","strokeWidth":3,"strokeDash":[10,4,3,4]},
    "data":{"name":"D"},"mark":{"type":"line","strokeWidth":3,"interpolate":"catmull-rom","clip":true},
    "encoding":{"x":{"field":"x","type":"quantitative","scale":{"domain":[0,1],"nice":false,"zero":false},"axis":{"values":[0,0.5,1],"format":"~g","labelExpr":"replace(datum.label,'−','-')","title":null}},
      "y":{"field":"y","type":"quantitative","scale":{"domain":[-2.69,-1.69],"nice":false,"zero":false},"axis":{"values":[-2.6,-2.4,-2.2,-2,-1.8],"format":"~g","labelExpr":"replace(datum.label,'−','-')","title":null}},
      "color":{"field":"s","type":"nominal","scale":{"domain":["nominal","delay","GSTF","GSTF+delay","measured"],"range":["#0072BD","#D95319","#EDB120","#7E2F8E","#77AC30"]},"legend":null},
      "detail":{"field":"arc"}}},
   {"width":112,"height":1,"view":{"stroke":null},"data":{"values":[{}]},"mark":{"type":"point","opacity":0,"size":0,"strokeWidth":0}},
   {"width":241,"height":241,"title":{"text":"(E)","dx":13,"dy":42},
    "layer":[
     {"data":{"values":[{}]},"mark":{"type":"rule","strokeDash":[8,5],"color":"#6e6e6e","strokeWidth":1.2},
      "encoding":{"x":{"datum":0,"type":"quantitative","scale":{"domain":[-0.008,0.008],"nice":false,"zero":false},"axis":{"orient":"top","values":[-0.005,0,0.005],"labels":false,"title":null}}}},
     {"data":{"values":[{}]},"mark":{"type":"rule","strokeDash":[8,5],"color":"#6e6e6e","strokeWidth":1.2},
      "encoding":{"y":{"datum":0,"type":"quantitative","scale":{"domain":[-0.008,0.008],"nice":false,"zero":false},"axis":{"orient":"right","values":[-0.005,0,0.005],"labels":false,"title":null}}}},
     {"data":{"name":"E"},"mark":{"type":"line","strokeWidth":2.3,"clip":true},
      "encoding":{"x":{"field":"x","type":"quantitative","scale":{"domain":[-0.008,0.008],"nice":false,"zero":false},"axis":{"orient":"bottom","values":[-0.005,0,0.005],"format":"~g","labelExpr":"replace(datum.label,'−','-')","title":null}},
        "y":{"field":"y","type":"quantitative","scale":{"domain":[-0.008,0.008],"nice":false,"zero":false},"axis":{"orient":"left","values":[-0.005,0,0.005],"format":"~g","labelExpr":"replace(datum.label,'−','-')","title":null}},
        "color":{"field":"s","type":"nominal","scale":{"domain":["nominal","delay","GSTF","GSTF+delay","measured"],"range":["#0072BD","#D95319","#EDB120","#7E2F8E","#77AC30"]},"legend":null},
        "order":{"field":"t","type":"quantitative"}}},
     {"data":{"values":[{}]},"mark":{"type":"text","text":"0 - 0.1 ms","align":"right","baseline":"alphabetic","font":"Liberation Serif","fontSize":23,"color":"#000000"},
      "encoding":{"x":{"datum":0.0071,"type":"quantitative","scale":{"domain":[-0.008,0.008],"nice":false,"zero":false},"axis":null},
        "y":{"datum":-0.0075,"type":"quantitative","scale":{"domain":[-0.008,0.008],"nice":false,"zero":false},"axis":null}}}
    ],
    "resolve":{"axis":{"x":"independent","y":"independent"}}},
   {"width":73,"height":1,"view":{"stroke":null},"data":{"values":[{}]},"mark":{"type":"point","opacity":0,"size":0,"strokeWidth":0}},
   {"width":241,"height":241,"title":{"text":"(F)","dx":12,"dy":42},
    "layer":[
     {"data":{"values":[{}]},"mark":{"type":"rule","strokeDash":[8,5],"color":"#6e6e6e","strokeWidth":1.2},
      "encoding":{"x":{"datum":0,"type":"quantitative","scale":{"domain":[-0.06,0.06],"nice":false,"zero":false},"axis":{"orient":"top","values":[-0.05,0,0.05],"labels":false,"title":null}}}},
     {"data":{"values":[{}]},"mark":{"type":"rule","strokeDash":[8,5],"color":"#6e6e6e","strokeWidth":1.2},
      "encoding":{"y":{"datum":0,"type":"quantitative","scale":{"domain":[-0.06,0.06],"nice":false,"zero":false},"axis":{"orient":"right","values":[-0.05,0,0.05],"labels":false,"title":null}}}},
     {"data":{"name":"Fn"},"mark":{"type":"line","strokeWidth":2.3,"interpolate":"catmull-rom","clip":true},
      "encoding":{"x":{"field":"x","type":"quantitative","scale":{"domain":[-0.06,0.06],"nice":false,"zero":false},"axis":{"orient":"bottom","values":[-0.05,0,0.05],"format":"~g","labelExpr":"replace(datum.label,'−','-')","title":null}},
        "y":{"field":"y","type":"quantitative","scale":{"domain":[-0.06,0.06],"nice":false,"zero":false},"axis":{"orient":"left","values":[-0.05,0,0.05],"format":"~g","labelExpr":"replace(datum.label,'−','-')","title":null}},
        "color":{"field":"s","type":"nominal","scale":{"domain":["nominal","delay","GSTF","GSTF+delay","measured"],"range":["#0072BD","#D95319","#EDB120","#7E2F8E","#77AC30"]},"legend":null},
        "order":{"field":"t","type":"quantitative"}}},
     {"data":{"name":"Fs"},"mark":{"type":"line","strokeWidth":2.3,"clip":true},
      "encoding":{"x":{"field":"x","type":"quantitative","scale":{"domain":[-0.06,0.06],"nice":false,"zero":false},"axis":null},
        "y":{"field":"y","type":"quantitative","scale":{"domain":[-0.06,0.06],"nice":false,"zero":false},"axis":null},
        "color":{"field":"s","type":"nominal","scale":{"domain":["nominal","delay","GSTF","GSTF+delay","measured"],"range":["#0072BD","#D95319","#EDB120","#7E2F8E","#77AC30"]},"legend":null},
        "order":{"field":"t","type":"quantitative"}}},
     {"data":{"values":[{}]},"mark":{"type":"text","text":"0 - 1 ms","align":"right","baseline":"alphabetic","font":"Liberation Serif","fontSize":23,"color":"#000000"},
      "encoding":{"x":{"datum":0.044,"type":"quantitative","scale":{"domain":[-0.06,0.06],"nice":false,"zero":false},"axis":null},
        "y":{"datum":-0.0557,"type":"quantitative","scale":{"domain":[-0.06,0.06],"nice":false,"zero":false},"axis":null}}}
    ],
    "resolve":{"axis":{"x":"independent","y":"independent"}}}
 ],"spacing":0,"bounds":"flush"},
 {"width":1,"height":351,"view":{"stroke":null},"data":{"values":[{}]},"mark":{"type":"point","opacity":0,"size":0,"strokeWidth":0}},
 {"hconcat":[
   {"width":223,"height":184,"view":{"stroke":null},"title":{"text":"(G)","dx":-50,"dy":-4},
    "layer":[
     {"data":{"values":[{"r":"header"}]},"mark":{"type":"rect","fill":"#f0f0f0","stroke":"#a0a0a0","strokeWidth":1},
      "encoding":{"y":{"field":"r","type":"nominal","scale":{"domain":["header","nominal","delay","GSTF","GSTF+delay"],"paddingInner":0,"paddingOuter":0},"axis":null}}},
     {"data":{"name":"methods"},"mark":{"type":"rect","fill":"#f0f0f0","stroke":"#a0a0a0","strokeWidth":1},
      "encoding":{"y":{"field":"r","type":"nominal","scale":{"domain":["header","nominal","delay","GSTF","GSTF+delay"],"paddingInner":0,"paddingOuter":0},"axis":null}}},
     {"data":{"name":"methods"},"mark":{"type":"text","font":"Liberation Sans","fontSize":23.8,"color":"#000000"},
      "encoding":{"y":{"field":"r","type":"nominal","scale":{"domain":["header","nominal","delay","GSTF","GSTF+delay"],"paddingInner":0,"paddingOuter":0},"axis":null},"text":{"field":"r"}}}
    ]},
   {"width":1007,"height":184,"view":{"stroke":null},
    "layer":[
     {"data":{"name":"cells"},"mark":{"type":"rect","stroke":"#e4e4e4","strokeWidth":1},
      "encoding":{"x":{"field":"m","type":"nominal","scale":{"domain":["RMSE whole interleaf (1/m)","RMSE first 0.1 ms (1/m)","RMSE first 1 ms (1/m)"],"paddingInner":0,"paddingOuter":0},"axis":null},
        "y":{"field":"r","type":"nominal","scale":{"domain":["header","nominal","delay","GSTF","GSTF+delay"],"paddingInner":0,"paddingOuter":0},"axis":null},
        "fill":{"field":"r","type":"nominal","scale":{"domain":["nominal","delay","GSTF","GSTF+delay"],"range":["#ffffff","#f0f0f0","#ffffff","#f0f0f0"]},"legend":null}}},
     {"data":{"name":"cells"},"mark":{"type":"text","font":"Liberation Serif","fontSize":28,"color":"#000000","dx":-17},
      "encoding":{"x":{"field":"m","type":"nominal","scale":{"domain":["RMSE whole interleaf (1/m)","RMSE first 0.1 ms (1/m)","RMSE first 1 ms (1/m)"],"paddingInner":0,"paddingOuter":0},"axis":null},
        "y":{"field":"r","type":"nominal","scale":{"domain":["header","nominal","delay","GSTF","GSTF+delay"],"paddingInner":0,"paddingOuter":0},"axis":null},
        "text":{"field":"v","type":"quantitative","format":".3f"}}},
     {"data":{"name":"metrics"},"mark":{"type":"rect","fill":"#f0f0f0","stroke":"#a0a0a0","strokeWidth":1},
      "encoding":{"x":{"field":"m","type":"nominal","scale":{"domain":["RMSE whole interleaf (1/m)","RMSE first 0.1 ms (1/m)","RMSE first 1 ms (1/m)"],"paddingInner":0,"paddingOuter":0},"axis":null},
        "y":{"datum":"header","type":"nominal","scale":{"domain":["header","nominal","delay","GSTF","GSTF+delay"],"paddingInner":0,"paddingOuter":0},"axis":null}}},
     {"data":{"name":"metrics"},"mark":{"type":"text","font":"Liberation Sans","fontSize":23.5,"color":"#000000"},
      "encoding":{"x":{"field":"m","type":"nominal","scale":{"domain":["RMSE whole interleaf (1/m)","RMSE first 0.1 ms (1/m)","RMSE first 1 ms (1/m)"],"paddingInner":0,"paddingOuter":0},"axis":null},
        "y":{"datum":"header","type":"nominal","scale":{"domain":["header","nominal","delay","GSTF","GSTF+delay"],"paddingInner":0,"paddingOuter":0},"axis":null},
        "text":{"field":"m"}}}
    ]}
 ],"spacing":0,"bounds":"flush"}
]
}
